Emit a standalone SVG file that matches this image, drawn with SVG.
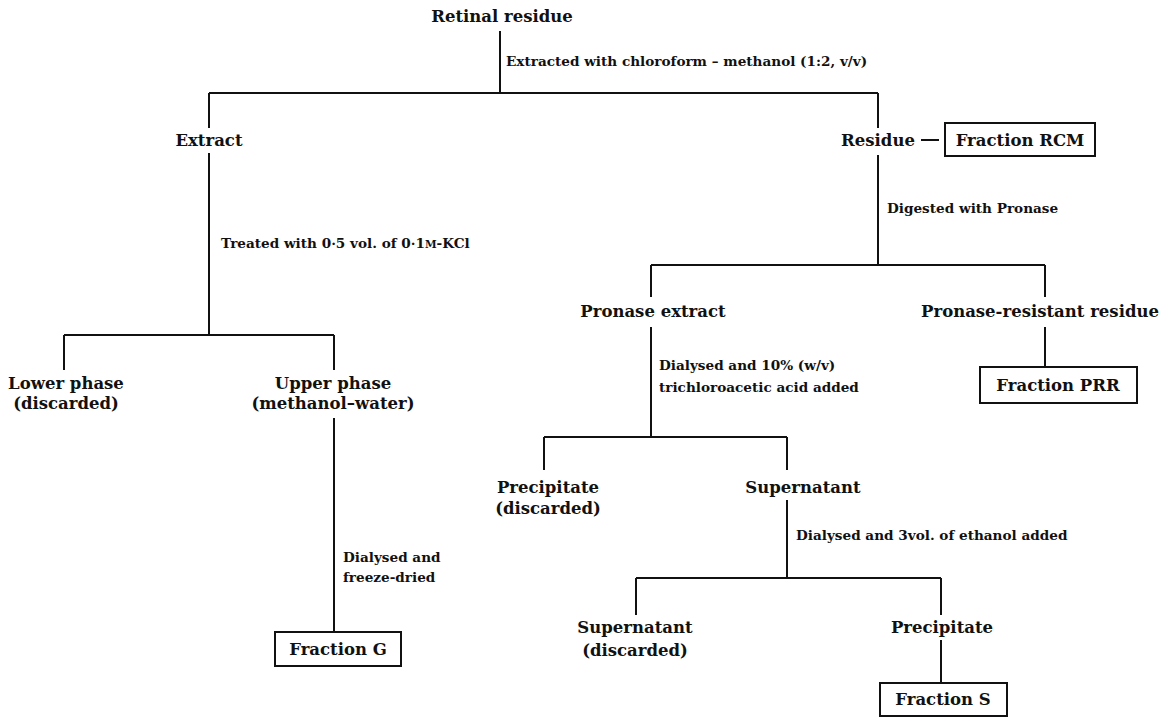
<svg xmlns="http://www.w3.org/2000/svg" width="1159" height="717" viewBox="0 0 1159 717">
<style>
.n{font-family:"DejaVu Serif","Liberation Serif",serif;font-weight:bold;font-size:16.5px;fill:#111;text-anchor:middle}
.a{font-family:"DejaVu Serif","Liberation Serif",serif;font-weight:bold;font-size:13.6px;fill:#111}
.l{stroke:#111;stroke-width:2;fill:none}
.b{stroke:#111;stroke-width:2;fill:#fff}
</style>
<rect width="1159" height="717" fill="#fff"/>
<g id="connectors" class="l">
<path d="M500 31V93M209 93H878M209 93V128M878 93V128"/>
<path d="M209 153V335M64 335H334M64 335V370M334 335V370"/>
<path d="M334 418V632"/>
<path d="M921 140H939"/>
<path d="M878 155V265M651 265H1045M651 265V297M1045 265V297"/>
<path d="M651 327V437M544 437H787M544 437V470M787 437V470"/>
<path d="M1045 327V367"/>
<path d="M787 500V578M636 578H941M636 578V615M941 578V615"/>
<path d="M941 640V683"/>
</g>
<g id="retinal-residue"><text class="n" x="502" y="22">Retinal residue</text></g>
<g id="label-extracted"><text class="a" x="506" y="66">Extracted with chloroform – methanol (1:2, v/v)</text></g>
<g id="extract"><text class="n" x="209" y="146">Extract</text></g>
<g id="label-treated"><text class="a" x="221" y="248">Treated with 0·5 vol. of 0·1<tspan font-size="10.5">M</tspan>-KCl</text></g>
<g id="lower-phase"><text class="n" x="66" y="389">Lower phase</text><text class="n" x="66" y="409">(discarded)</text></g>
<g id="upper-phase"><text class="n" x="333" y="389">Upper phase</text><text class="n" x="333" y="409">(methanol–water)</text></g>
<g id="label-dialysed-freeze"><text class="a" x="343" y="562">Dialysed and</text><text class="a" x="343" y="582">freeze-dried</text></g>
<g id="fraction-g"><rect class="b" x="275" y="632" width="126" height="34"/><text class="n" x="338" y="655">Fraction G</text></g>
<g id="residue"><text class="n" x="878" y="146">Residue</text></g>
<g id="fraction-rcm"><rect class="b" x="945" y="123" width="150" height="33"/><text class="n" x="1020" y="146">Fraction RCM</text></g>
<g id="label-digested"><text class="a" x="887" y="213">Digested with Pronase</text></g>
<g id="pronase-extract"><text class="n" x="653" y="317">Pronase extract</text></g>
<g id="pronase-resistant"><text class="n" x="1040" y="317">Pronase-resistant residue</text></g>
<g id="label-tca"><text class="a" x="659" y="370">Dialysed and 10% (w/v)</text><text class="a" x="659" y="392">trichloroacetic acid added</text></g>
<g id="fraction-prr"><rect class="b" x="980" y="367" width="157" height="36"/><text class="n" x="1058" y="391">Fraction PRR</text></g>
<g id="precipitate-1"><text class="n" x="548" y="493">Precipitate</text><text class="n" x="548" y="514">(discarded)</text></g>
<g id="supernatant-1"><text class="n" x="803" y="493">Supernatant</text></g>
<g id="label-ethanol"><text class="a" x="796" y="540">Dialysed and 3vol. of ethanol added</text></g>
<g id="supernatant-2"><text class="n" x="635" y="633">Supernatant</text><text class="n" x="635" y="656">(discarded)</text></g>
<g id="precipitate-2"><text class="n" x="942" y="633">Precipitate</text></g>
<g id="fraction-s"><rect class="b" x="880" y="683" width="127" height="33"/><text class="n" x="943" y="705">Fraction S</text></g>
</svg>
